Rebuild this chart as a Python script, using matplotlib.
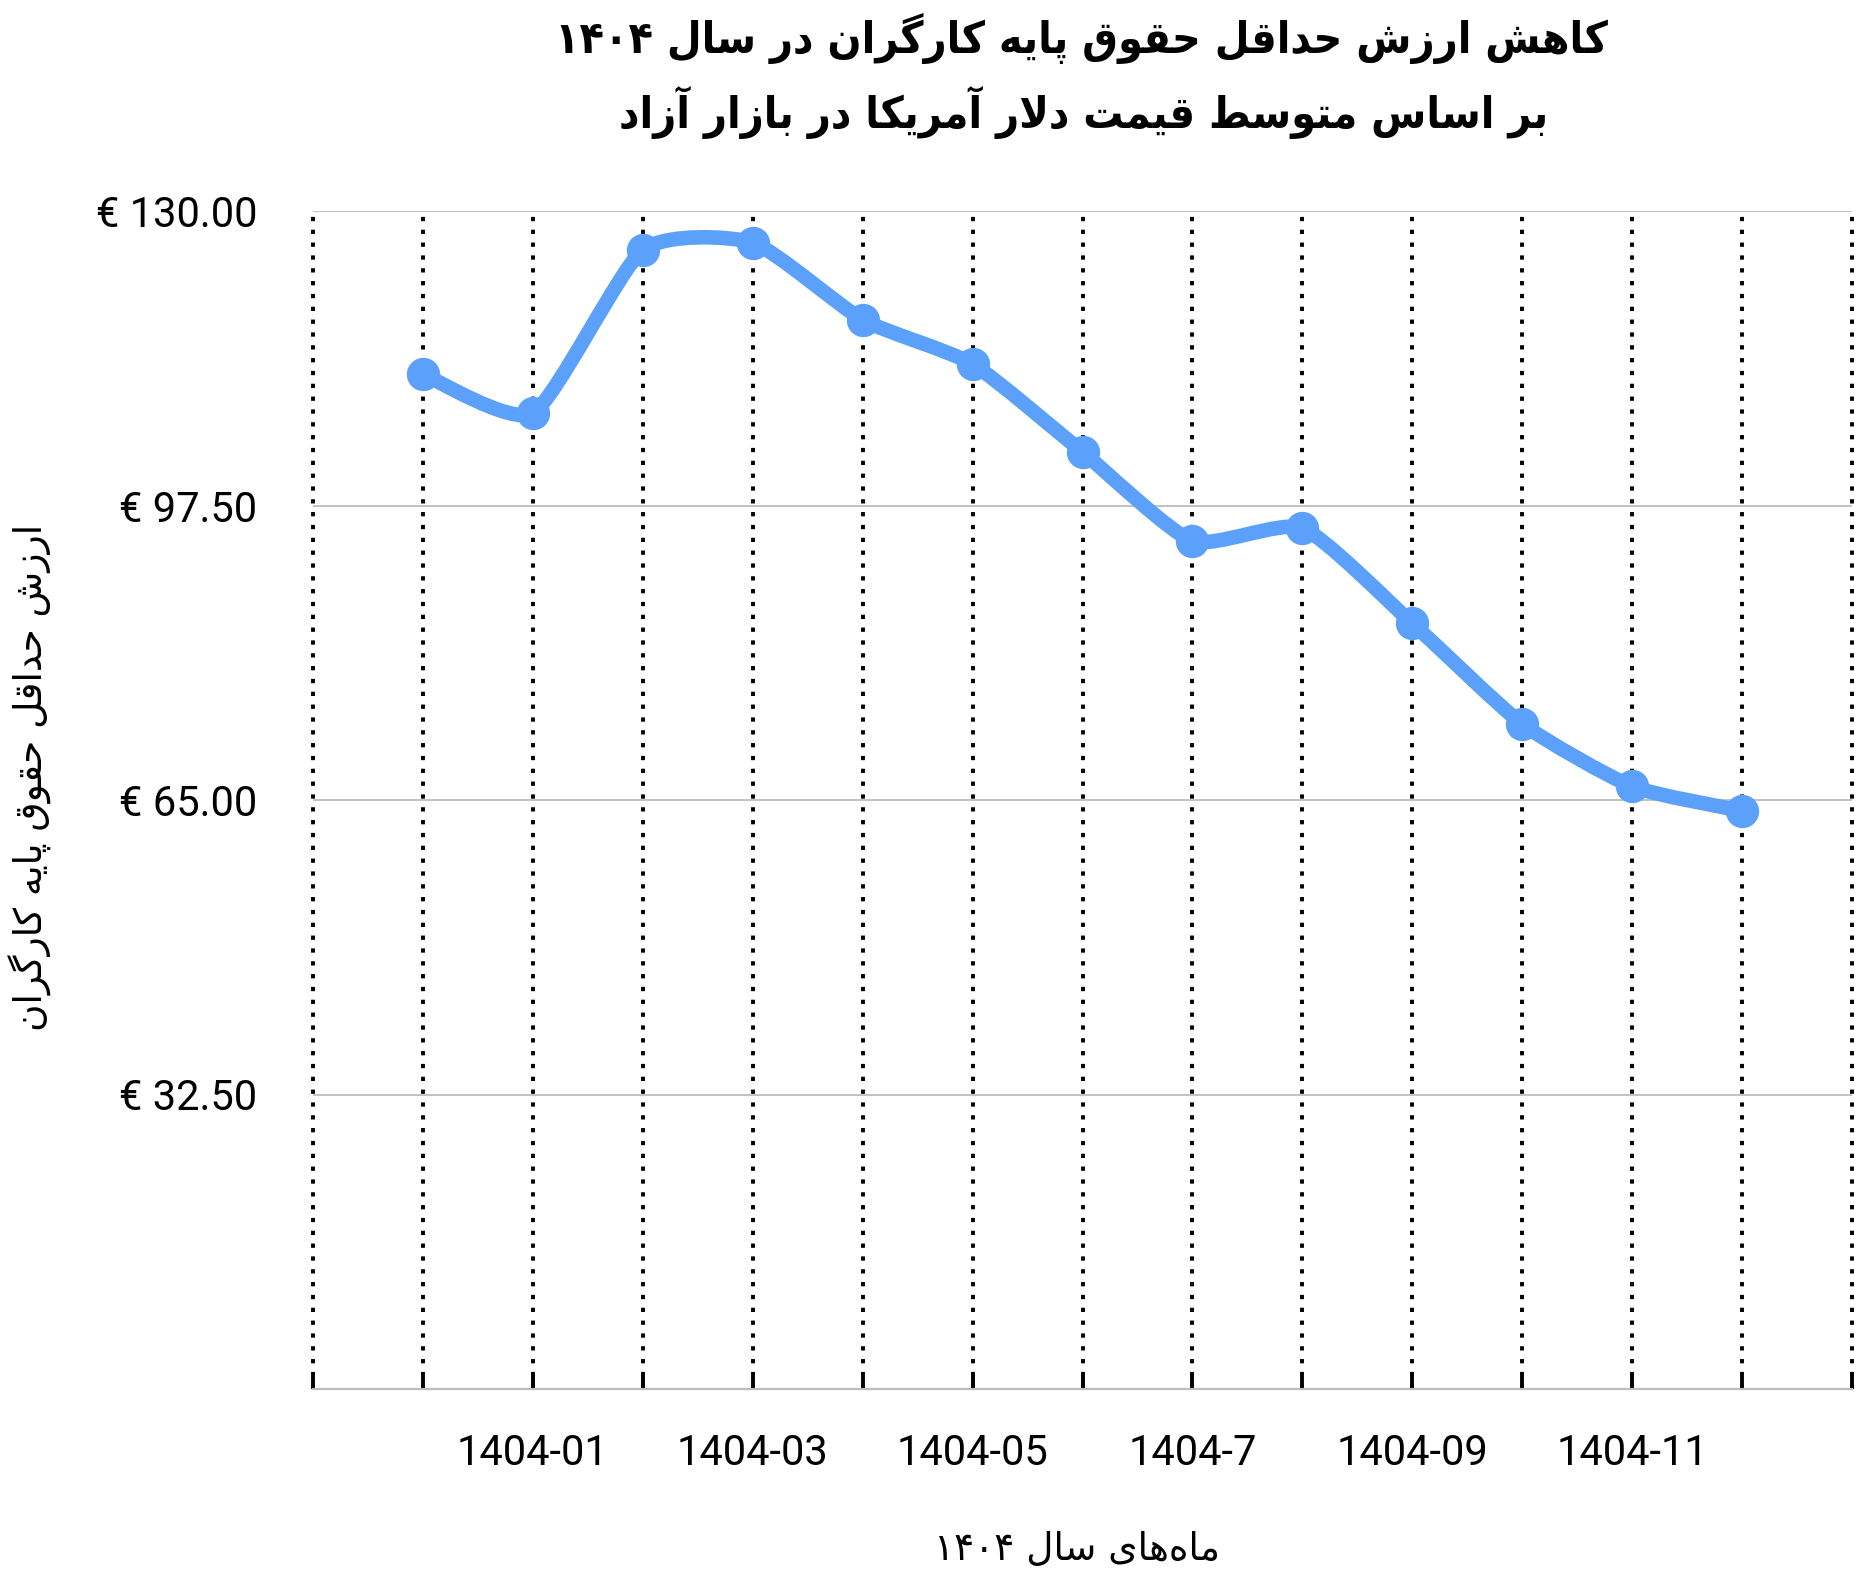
import re

import matplotlib
matplotlib.use("Agg")
import matplotlib.pyplot as plt
from matplotlib.patches import PathPatch
from matplotlib.path import Path

# ============================ data ============================
MONTHS = ["1403-12", "1404-01", "1404-02", "1404-03", "1404-04", "1404-05", "1404-06",
          "1404-7", "1404-08", "1404-09", "1404-10", "1404-11", "1404-12"]
WAGE_EUR = [112.0, 107.7, 125.7, 126.5, 118.0, 113.1, 103.4,
            93.6, 95.0, 84.5, 73.4, 66.5, 63.8]
Y_TICKS = [32.5, 65.0, 97.5, 130.0]

TITLE_1 = "کاهش ارزش حداقل حقوق پایه کارگران در سال ۱۴۰۴"
TITLE_2 = "بر اساس متوسط قیمت دلار آمریکا در بازار آزاد"
Y_LABEL = "ارزش حداقل حقوق پایه کارگران"
X_LABEL = "ماه\u200cهای سال ۱۴۰۴"
# ==============================================================

LINE_COLOR = "#5ba0fa"
GRID_COLOR = "#bdbdbd"
SMOOTH = 0.10   # bezier handle length, fraction of neighbour distance

# contextual forms: isolated, final, initial, medial
FORMS = {
    "ا": ("\uFE8D", "\uFE8E", None, None),
    "آ": ("\uFE81", "\uFE82", None, None),
    "ب": ("\uFE8F", "\uFE90", "\uFE91", "\uFE92"),
    "پ": ("\uFB56", "\uFB57", "\uFB58", "\uFB59"),
    "ت": ("\uFE95", "\uFE96", "\uFE97", "\uFE98"),
    "ح": ("\uFEA1", "\uFEA2", "\uFEA3", "\uFEA4"),
    "د": ("\uFEA9", "\uFEAA", None, None),
    "ر": ("\uFEAD", "\uFEAE", None, None),
    "ز": ("\uFEAF", "\uFEB0", None, None),
    "س": ("\uFEB1", "\uFEB2", "\uFEB3", "\uFEB4"),
    "ش": ("\uFEB5", "\uFEB6", "\uFEB7", "\uFEB8"),
    "ط": ("\uFEC1", "\uFEC2", "\uFEC3", "\uFEC4"),
    "ق": ("\uFED5", "\uFED6", "\uFED7", "\uFED8"),
    "ک": ("\uFB8E", "\uFB8F", "\uFB90", "\uFB91"),
    "گ": ("\uFB92", "\uFB93", "\uFB94", "\uFB95"),
    "ل": ("\uFEDD", "\uFEDE", "\uFEDF", "\uFEE0"),
    "م": ("\uFEE1", "\uFEE2", "\uFEE3", "\uFEE4"),
    "ن": ("\uFEE5", "\uFEE6", "\uFEE7", "\uFEE8"),
    "ه": ("\uFEE9", "\uFEEA", "\uFEEB", "\uFEEC"),
    "و": ("\uFEED", "\uFEEE", None, None),
    "ی": ("\uFBFC", "\uFBFD", "\uFBFE", "\uFBFF"),
}
LAM_ALEF = {"ا": ("\uFEFB", "\uFEFC"), "آ": ("\uFEF5", "\uFEF6")}


def fa(text):
    """Poor man's arabic shaping + bidi, matplotlib has neither."""
    out, prev_joins, i = [], False, 0
    while i < len(text):
        c = text[i]
        if c not in FORMS:
            if c != "\u200c":
                out.append(c)
            prev_joins = False
            i += 1
            continue
        nxt = text[i + 1] if i + 1 < len(text) else ""
        if c == "ل" and nxt in LAM_ALEF:
            out.append(LAM_ALEF[nxt][1 if prev_joins else 0])
            prev_joins = False
            i += 2
            continue
        iso, fin, ini, med = FORMS[c]
        next_ok = ini is not None and nxt in FORMS
        if prev_joins and next_ok:
            out.append(med)
        elif prev_joins:
            out.append(fin)
        elif next_ok:
            out.append(ini)
        else:
            out.append(iso)
        prev_joins = ini is not None
        i += 1
    s = "".join(out)[::-1]
    return re.sub(r"[0-9\u06F0-\u06F9]+", lambda m: m.group(0)[::-1], s)


def smooth_path(xs, ys, k):
    verts, codes = [(xs[0], ys[0])], [Path.MOVETO]
    n = len(xs)
    for i in range(n - 1):
        pp = i - 1 if i > 0 else i
        nn = i + 2 if i + 2 < n else i + 1
        c1 = (xs[i] + k * (xs[i + 1] - xs[pp]), ys[i] + k * (ys[i + 1] - ys[pp]))
        c2 = (xs[i + 1] - k * (xs[nn] - xs[i]), ys[i + 1] - k * (ys[nn] - ys[i]))
        verts += [c1, c2, (xs[i + 1], ys[i + 1])]
        codes += [Path.CURVE4] * 3
    return Path(verts, codes)


def main():
    fig = plt.figure(figsize=(18.62, 15.80), dpi=100)
    ax = fig.add_axes([313 / 1862, 1 - 1389 / 1580, 1539 / 1862, 1178 / 1580])

    xs = list(range(1, len(MONTHS) + 1))
    n_slots = len(MONTHS) + 1

    # horizontal grid + dotted verticals
    for yv in Y_TICKS:
        ax.axhline(yv, color=GRID_COLOR, lw=1.3, zorder=0)
    for xv in range(0, n_slots + 1):
        ax.axvline(xv, color="black", lw=2.8, ls=(0, (1.1, 2.2)), zorder=1, clip_on=False)

    ax.add_patch(PathPatch(smooth_path(xs, WAGE_EUR, SMOOTH), fill=False,
                           edgecolor=LINE_COLOR, lw=10.5, capstyle="round",
                           joinstyle="round", zorder=3))
    ax.plot(xs, WAGE_EUR, "o", ms=24, color=LINE_COLOR, mec="none", zorder=4)

    ax.set_xlim(0, n_slots)
    ax.set_ylim(0, 130)

    for side in ("top", "right", "left"):
        ax.spines[side].set_visible(False)
    ax.spines["bottom"].set_color(GRID_COLOR)
    ax.spines["bottom"].set_linewidth(1.6)

    ax.set_yticks(Y_TICKS)
    ax.set_yticklabels([f"€ {v:.2f}" for v in Y_TICKS], fontfamily="Roboto", fontsize=30)
    ax.tick_params(axis="y", length=0, pad=40)

    # every slot gets a tick mark, every other month gets a label
    xlabels = [""] * (n_slots + 1)
    for i, m in enumerate(MONTHS):
        if i % 2 == 1:
            xlabels[i + 1] = m
    ax.set_xticks(range(0, n_slots + 1))
    ax.set_xticklabels(xlabels, fontfamily="Roboto", fontsize=30)
    ax.tick_params(axis="x", direction="in", length=9.5, width=2.8, color="black", pad=32)

    title_kw = dict(ha="center", va="center", family=["DejaVu Sans"],
                    fontweight="bold", fontstretch="condensed", fontsize=32)
    fig.text(1081 / 1862, 1 - 38 / 1580, fa(TITLE_1), **title_kw)
    fig.text(1084 / 1862, 1 - 112 / 1580, fa(TITLE_2), **title_kw)
    fig.text(30 / 1862, 1 - 777 / 1580, fa(Y_LABEL), rotation=90, ha="center", va="center",
             family=["DejaVu Sans"], fontsize=27)
    fig.text(1077 / 1862, 1 - 1550 / 1580, fa(X_LABEL), ha="center", va="center",
             family=["DejaVu Sans"], fontsize=27)

    fig.savefig("out.png", dpi=100)


if __name__ == "__main__":
    main()
